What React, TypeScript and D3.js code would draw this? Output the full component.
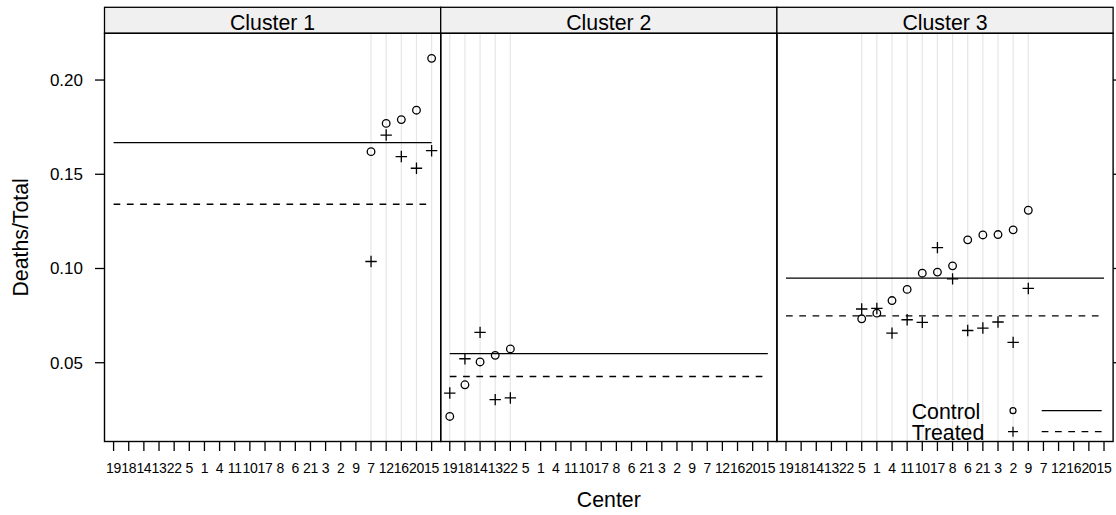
import React from "react";
import * as d3 from "d3";

// Centre order along the x axis (shared by every panel)
const centerOrder = ["19", "18", "14", "13", "22", "5", "1", "4", "11", "10", "17", "8", "6", "21", "3", "2", "9", "7", "12", "16", "20", "15"];
const clusterNames = ["Cluster 1", "Cluster 2", "Cluster 3"];

const cluster1Centers = ["7", "12", "16", "20", "15"];
const cluster1Control = [0.162, 0.177, 0.179, 0.184, 0.2115];
const cluster1Treated = [0.1037, 0.1708, 0.1594, 0.1532, 0.1625];

const cluster2Centers = ["19", "18", "14", "13", "22"];
const cluster2Control = [0.0215, 0.0383, 0.0504, 0.0539, 0.0573];
const cluster2Treated = [0.0339, 0.0521, 0.0661, 0.0304, 0.0313];

const cluster3Centers = ["5", "1", "4", "11", "10", "17", "8", "6", "21", "3", "2", "9"];
const cluster3Control = [0.0733, 0.0763, 0.083, 0.0889, 0.0975, 0.0981, 0.1014, 0.1152, 0.1178, 0.118, 0.1205, 0.1309];
const cluster3Treated = [0.0785, 0.0788, 0.0657, 0.0728, 0.0714, 0.1111, 0.0945, 0.0671, 0.0684, 0.0716, 0.0608, 0.0894];

// Pooled death rate per cluster
const controlAverage = [0.1668, 0.0548, 0.0949];
const treatedAverage = [0.1341, 0.0427, 0.0749];

const yTicks = [0.05, 0.1, 0.15, 0.2];
const legendLabels = ["Control", "Treated"];

const FONT = "'Liberation Sans', Arial, Helvetica, sans-serif";

export default function App() {
  const W = 1116;
  const H = 515;
  const left0 = 104.5;
  const panelW = 336.2;
  const stripTop = 7.3;
  const top = 33.3;
  const bottom = 441.5;

  const clusters = [
    { centers: cluster1Centers, control: cluster1Control, treated: cluster1Treated },
    { centers: cluster2Centers, control: cluster2Control, treated: cluster2Treated },
    { centers: cluster3Centers, control: cluster3Control, treated: cluster3Treated },
  ];

  const allVals = clusters.flatMap((c) => [...c.control, ...c.treated]);
  const [lo, hi] = d3.extent(allVals) as [number, number];
  const pad = (hi - lo) * 0.07;
  const y = d3.scaleLinear().domain([lo - pad, hi + pad]).range([bottom, top]);

  const plus = (cx: number, cy: number, s: number) =>
    `M${cx - s},${cy}H${cx + s}M${cx},${cy - s}V${cy + s}`;

  return (
    <svg
      width={W}
      height={H}
      style={{ position: "absolute", left: 0, top: 0, background: "#fff" }}
      fontFamily={FONT}
    >
      {clusters.map((cl, i) => {
        const px = left0 + i * panelW;
        const x = d3.scalePoint<string>().domain(centerOrder).range([px, px + panelW]).padding(0.6);
        const xFirst = x(centerOrder[0])!;
        const xLast = x(centerOrder[centerOrder.length - 1])!;
        return (
          <g key={i}>
            {/* reference lines for the centres in this cluster */}
            {cl.centers.map((c) => (
              <line key={c} x1={x(c)} x2={x(c)} y1={top} y2={bottom} stroke="#e6e6e6" strokeWidth={1.2} />
            ))}
            {/* cluster averages */}
            <line x1={xFirst} x2={xLast} y1={y(controlAverage[i])} y2={y(controlAverage[i])} stroke="#000" strokeWidth={1.3} />
            <line
              x1={xFirst}
              x2={xLast}
              y1={y(treatedAverage[i])}
              y2={y(treatedAverage[i])}
              stroke="#000"
              strokeWidth={1.3}
              strokeDasharray="6.7,6.6"
            />
            {/* points */}
            {cl.centers.map((c, j) => (
              <circle key={"c" + c} cx={x(c)} cy={y(cl.control[j])} r={3.8} fill="none" stroke="#000" strokeWidth={1.3} />
            ))}
            {cl.centers.map((c, j) => (
              <path key={"t" + c} d={plus(x(c)!, y(cl.treated[j]), 5.7)} stroke="#000" strokeWidth={1.3} fill="none" />
            ))}
            {/* strip */}
            <rect x={px} y={stripTop} width={panelW} height={top - stripTop} fill="#f0f0f0" stroke="#000" strokeWidth={1.3} />
            <text x={px + panelW / 2} y={30} textAnchor="middle" fontSize={21.3} fill="#000">
              {clusterNames[i]}
            </text>
            {/* panel frame */}
            <rect x={px} y={top} width={panelW} height={bottom - top} fill="none" stroke="#000" strokeWidth={1.4} />
            {/* bottom axis */}
            {centerOrder.map((c) => (
              <g key={"xt" + c}>
                <line x1={x(c)} x2={x(c)} y1={bottom} y2={bottom + 9.5} stroke="#000" strokeWidth={1.3} />
                <text x={x(c)} y={473.3} textAnchor="middle" fontSize={14} letterSpacing={-0.3} fill="#000">
                  {c}
                </text>
              </g>
            ))}
          </g>
        );
      })}

      {/* left axis */}
      {yTicks.map((t) => (
        <g key={"yl" + t}>
          <line x1={left0 - 9.5} x2={left0} y1={y(t)} y2={y(t)} stroke="#000" strokeWidth={1.3} />
          <text x={83} y={y(t)} dy="0.35em" textAnchor="end" fontSize={17} fill="#000">
            {t.toFixed(2)}
          </text>
        </g>
      ))}
      {/* right axis ticks */}
      {yTicks.map((t) => (
        <line
          key={"yr" + t}
          x1={left0 + 3 * panelW}
          x2={left0 + 3 * panelW + 9.5}
          y1={y(t)}
          y2={y(t)}
          stroke="#000"
          strokeWidth={1.3}
        />
      ))}

      {/* legend inside the last panel */}
      <g>
        <text x={911.7} y={419.3} fontSize={21.3} fill="#000">{legendLabels[0]}</text>
        <text x={911.7} y={440} fontSize={21.3} fill="#000">{legendLabels[1]}</text>
        <circle cx={1013} cy={410.7} r={3} fill="none" stroke="#000" strokeWidth={1.2} />
        <path d={plus(1013, 431.7, 5)} stroke="#000" strokeWidth={1.2} />
        <line x1={1041.7} x2={1101.7} y1={410.7} y2={410.7} stroke="#000" strokeWidth={1.3} />
        <line x1={1041.7} x2={1101.7} y1={431.7} y2={431.7} stroke="#000" strokeWidth={1.3} strokeDasharray="6.7,6.6" />
      </g>

      {/* axis titles */}
      <text x={left0 + 1.5 * panelW} y={507} textAnchor="middle" fontSize={21.3} fill="#000">
        Center
      </text>
      <text
        transform={`translate(28, ${(top + bottom) / 2}) rotate(-90)`}
        textAnchor="middle"
        fontSize={21.3}
        fill="#000"
      >
        Deaths/Total
      </text>
    </svg>
  );
}
